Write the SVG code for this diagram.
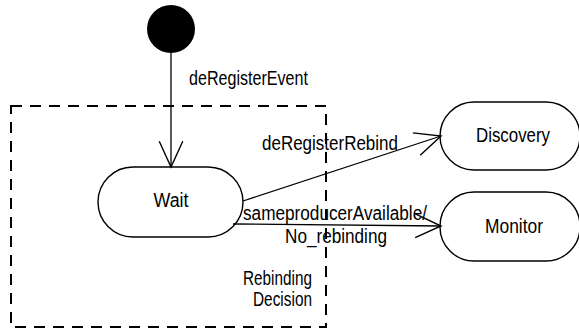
<svg xmlns="http://www.w3.org/2000/svg" width="579" height="329" viewBox="0 0 579 329">
<style>
.node{fill:#fff;stroke:#000;stroke-width:1.4}
.lbl{font-family:"Liberation Sans Narrow","Liberation Sans",Arial,sans-serif;font-size:20px;fill:#000}
.edge{fill:none;stroke:#000;stroke-width:1.3}
.box{fill:none;stroke:#000;stroke-width:2;stroke-dasharray:11 8}
</style>
<defs>
<marker id="open" markerUnits="userSpaceOnUse" markerWidth="30" markerHeight="30" viewBox="-26 -14 28 28" refX="0" refY="0" orient="auto">
<path d="M-24,-11 L0,0 L-24,11" fill="none" stroke="#000" stroke-width="1.3"/>
</marker>
</defs>
<rect width="579" height="329" fill="#fff"/>
<g id="start"><circle cx="171" cy="29" r="24" fill="#000"/></g>
<g id="wait"><rect class="node" x="98" y="167" width="145" height="70" rx="35"/><text class="lbl" x="171" y="207" text-anchor="middle" textLength="35" lengthAdjust="spacingAndGlyphs">Wait</text></g>
<g id="discovery"><rect class="node" x="440" y="102" width="140" height="68" rx="34"/><text class="lbl" x="513" y="142" text-anchor="middle" textLength="74" lengthAdjust="spacingAndGlyphs">Discovery</text></g>
<g id="monitor"><rect class="node" x="440" y="192" width="140" height="69" rx="34"/><text class="lbl" x="514" y="233" text-anchor="middle" textLength="58" lengthAdjust="spacingAndGlyphs">Monitor</text></g>
<g id="connectors">
<line class="edge" x1="171" y1="53" x2="171" y2="167" marker-end="url(#open)"/>
<line class="edge" x1="243" y1="201" x2="441" y2="136" marker-end="url(#open)"/>
<line class="edge" x1="233" y1="224" x2="441" y2="226" marker-end="url(#open)"/>
<text class="lbl" x="189" y="85" textLength="119" lengthAdjust="spacingAndGlyphs">deRegisterEvent</text>
<text class="lbl" x="262" y="150" textLength="136" lengthAdjust="spacingAndGlyphs">deRegisterRebind</text>
<text class="lbl" x="243" y="220" textLength="184" lengthAdjust="spacingAndGlyphs">sameproducerAvailable/</text>
<text class="lbl" x="285" y="243" textLength="102" lengthAdjust="spacingAndGlyphs">No_rebinding</text>
</g>
<g id="rebinding-decision">
<rect class="box" x="11" y="106" width="315" height="221"/>
<text class="lbl" x="312" y="285" text-anchor="end" textLength="69" lengthAdjust="spacingAndGlyphs">Rebinding</text>
<text class="lbl" x="312" y="306" text-anchor="end" textLength="59" lengthAdjust="spacingAndGlyphs">Decision</text>
</g>
</svg>
